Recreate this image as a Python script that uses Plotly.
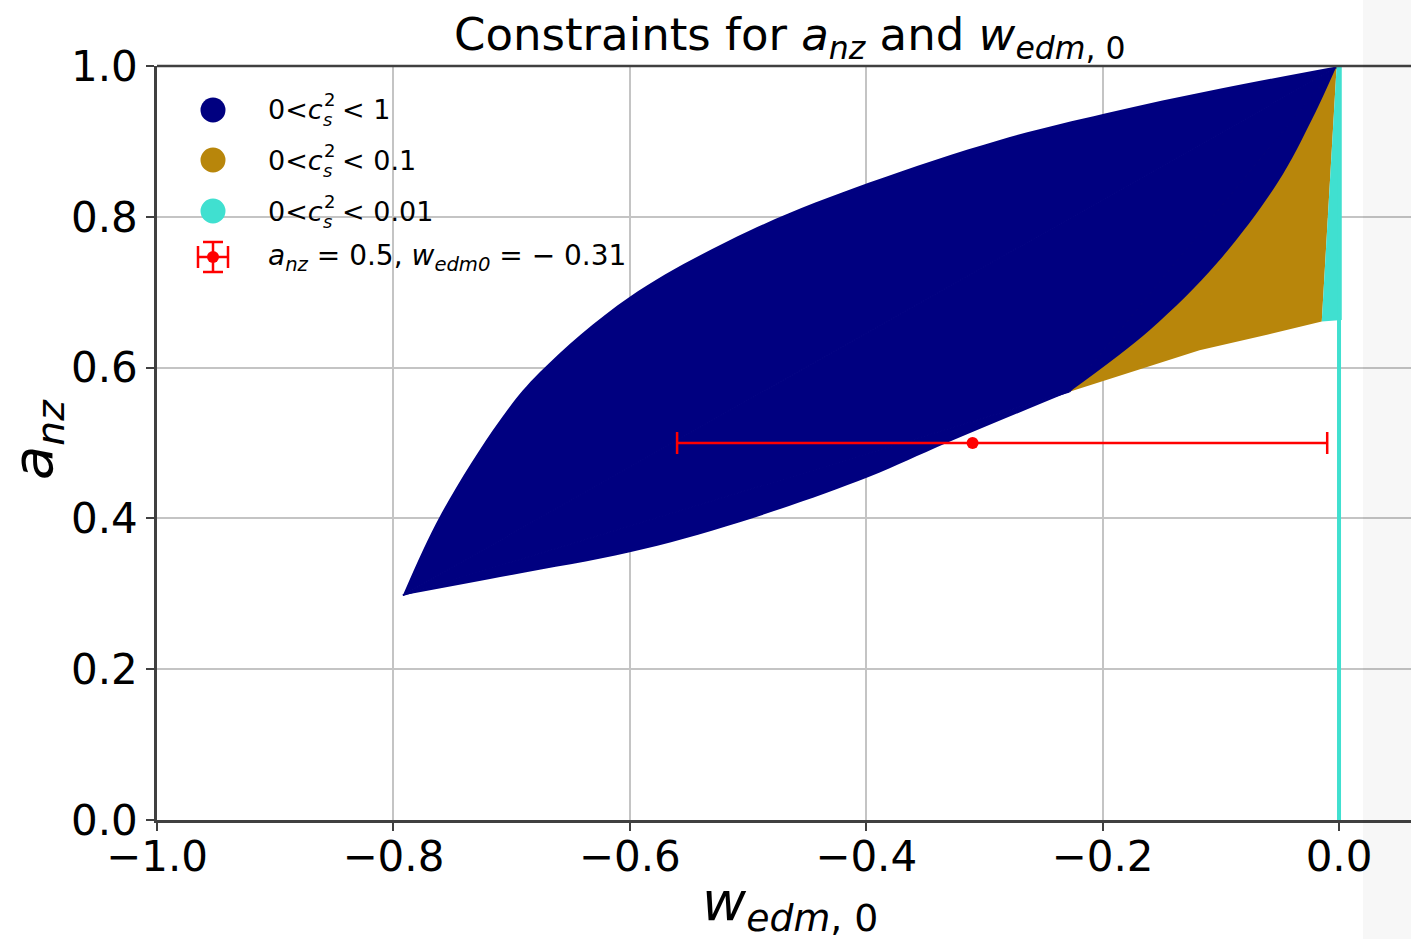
import plotly.graph_objects as go

# ---- region boundaries (w_edm0, a_nz) ----
# 0 < c_s^2 < 1 : upper edge of the allowed lens
blue_upper_w = [-0.792, -0.761, -0.710, -0.676, -0.600, -0.498, -0.398, -0.287, -0.198, -0.100, 0.000]
blue_upper_a = [0.298, 0.402, 0.530, 0.594, 0.694, 0.782, 0.845, 0.902, 0.937, 0.970, 1.000]
# lower edge of the lens up to where the 0.1 band begins
blue_lower_w = [-0.792, -0.700, -0.600, -0.507, -0.398, -0.332, -0.228]
blue_lower_a = [0.298, 0.325, 0.355, 0.395, 0.455, 0.500, 0.568]

# 0 < c_s^2 < 0.1 : lower edge and the edge shared with the 0..1 region
gold_lower_w = [-0.228, -0.170, -0.118, -0.060, -0.0146]
gold_lower_a = [0.568, 0.597, 0.623, 0.644, 0.661]
gold_upper_w = [-0.228, -0.160, -0.103, -0.052, -0.022, -0.002]
gold_upper_a = [0.568, 0.650, 0.739, 0.845, 0.932, 1.000]

# 0 < c_s^2 < 0.01 : thin sliver next to w = 0, plus the w = 0 column
cyan_w = [-0.0146, -0.002, 0.0023, 0.0023]
cyan_a = [0.661, 1.000, 1.000, 0.663]
cyan_col_w = [0.0, 0.0]
cyan_col_a = [0.0, 1.0]

# best-fit point with asymmetric error on w
pt_w = [-0.31]
pt_a = [0.5]
pt_err_plus = [0.30]
pt_err_minus = [0.25]

x_ticks = [-1.0, -0.8, -0.6, -0.4, -0.2, 0.0]
x_ticklabels = ["\u22121.0", "\u22120.8", "\u22120.6", "\u22120.4", "\u22120.2", "0.0"]
y_ticks = [0.0, 0.2, 0.4, 0.6, 0.8, 1.0]
y_ticklabels = ["0.0", "0.2", "0.4", "0.6", "0.8", "1.0"]

NAVY = "#000080"
GOLD = "#B8860B"
TURQ = "#40E0D0"
RED = "#FF0000"
FONT = "DejaVu Sans"

W, H = 1411, 939
L, R, T, B = 157, 0, 66, 119


def px_x(px):
    return (px - L) / (W - L - R)


def px_y(py):
    return (H - B - py) / (H - T - B)


def edge_fill(fig, xs, ys, color, shape="spline"):
    """Edge closed by the straight chord between its two ends."""
    fig.add_trace(go.Scatter(x=xs, y=ys, mode="lines",
                             line=dict(width=0, shape=shape, color=color),
                             fill="toself", fillcolor=color,
                             showlegend=False, hoverinfo="skip"))


def chord(fig, xs, ys, color):
    fig.add_trace(go.Scatter(x=xs, y=ys, mode="lines",
                             line=dict(width=1.5, color=color),
                             showlegend=False, hoverinfo="skip"))


fig = go.Figure()

# 0..1 region = (upper edge over its chord) + (lower edge under its chord)
#               + the triangle spanned by the tip and the two far corners
tip_w, tip_a = blue_upper_w[0], blue_upper_a[0]
edge_fill(fig, blue_upper_w, blue_upper_a, NAVY)
edge_fill(fig, blue_lower_w, blue_lower_a, NAVY)
edge_fill(fig, [tip_w, blue_lower_w[-1], blue_upper_w[-1]],
          [tip_a, blue_lower_a[-1], blue_upper_a[-1]], NAVY, shape="linear")
chord(fig, [tip_w, blue_upper_w[-1]], [tip_a, blue_upper_a[-1]], NAVY)
chord(fig, [tip_w, blue_lower_w[-1]], [tip_a, blue_lower_a[-1]], NAVY)

# 0..0.1 region: area under its chord, minus the part above the shared edge
edge_fill(fig, gold_lower_w + [gold_upper_w[-1]], gold_lower_a + [gold_upper_a[-1]], GOLD,
          shape="linear")
edge_fill(fig, gold_upper_w, gold_upper_a, NAVY)
chord(fig, [gold_upper_w[0], gold_upper_w[-1]], [gold_upper_a[0], gold_upper_a[-1]], NAVY)

# 0..0.01 region
fig.add_trace(go.Scatter(x=cyan_w, y=cyan_a, mode="lines",
                         line=dict(width=0, color=TURQ),
                         fill="toself", fillcolor=TURQ,
                         showlegend=False, hoverinfo="skip"))
fig.add_trace(go.Scatter(x=cyan_col_w, y=cyan_col_a, mode="lines",
                         line=dict(width=4, color=TURQ),
                         showlegend=False, hoverinfo="skip"))

fig.add_trace(go.Scatter(x=pt_w, y=pt_a, mode="markers",
                         marker=dict(size=12, color=RED),
                         error_x=dict(type="data", symmetric=False,
                                      array=pt_err_plus, arrayminus=pt_err_minus,
                                      color=RED, thickness=2.5, width=11),
                         showlegend=False, hoverinfo="skip"))

shapes = []
annotations = []

# top spine
shapes.append(dict(type="line", xref="paper", yref="paper", x0=0, x1=1, y0=1, y1=1,
                   line=dict(color="#404040", width=2.5), layer="above"))

# legend glyphs
leg_x = px_x(213)
leg_rows = [110, 160, 211, 257]
for py, col in zip(leg_rows[:3], [NAVY, GOLD, TURQ]):
    shapes.append(dict(type="circle", xref="paper", yref="paper",
                       xsizemode="pixel", ysizemode="pixel",
                       xanchor=leg_x, yanchor=px_y(py),
                       x0=-12.5, x1=12.5, y0=-12.5, y1=12.5,
                       fillcolor=col, line=dict(width=0)))
ey = px_y(leg_rows[3])
seg = [(-15, 0, 15, 0), (0, -15, 0, 15), (-15, -11, -15, 11), (15, -11, 15, 11),
       (-10, 15, 10, 15), (-10, -15, 10, -15)]
for x0, y0, x1, y1 in seg:
    shapes.append(dict(type="line", xref="paper", yref="paper",
                       xsizemode="pixel", ysizemode="pixel",
                       xanchor=leg_x, yanchor=ey, x0=x0, x1=x1, y0=y0, y1=y1,
                       line=dict(color=RED, width=2.5)))
shapes.append(dict(type="circle", xref="paper", yref="paper",
                   xsizemode="pixel", ysizemode="pixel",
                   xanchor=leg_x, yanchor=ey, x0=-6, x1=6, y0=-6, y1=6,
                   fillcolor=RED, line=dict(width=0)))

# legend labels: 0<c_s^2<..., with stacked sub/superscript
LF = 27
SF = 18
base_w = 55
tail = ["&lt; 1", "&lt; 0.1", "&lt; 0.01"]
for py, t in zip(leg_rows[:3], tail):
    yy = px_y(py)
    annotations.append(dict(xref="paper", yref="paper", x=px_x(266), y=yy,
                            xanchor="left", yanchor="middle", showarrow=False,
                            text="0&lt;<i>c</i>", font=dict(family=FONT, size=LF, color="black")))
    annotations.append(dict(xref="paper", yref="paper", x=px_x(266 + base_w + 1), y=yy,
                            xanchor="left", yanchor="middle", yshift=10, showarrow=False,
                            text="2", font=dict(family=FONT, size=SF, color="black")))
    annotations.append(dict(xref="paper", yref="paper", x=px_x(266 + base_w), y=yy,
                            xanchor="left", yanchor="middle", yshift=-10, showarrow=False,
                            text="<i>s</i>", font=dict(family=FONT, size=SF, color="black")))
    annotations.append(dict(xref="paper", yref="paper", x=px_x(266 + base_w + 19), y=yy,
                            xanchor="left", yanchor="middle", showarrow=False,
                            text=t, font=dict(family=FONT, size=LF, color="black")))
annotations.append(dict(xref="paper", yref="paper", x=px_x(266), y=ey,
                        xanchor="left", yanchor="middle", showarrow=False,
                        text="<i>a</i><sub><i>nz</i></sub> = 0.5, <i>w</i><sub><i>edm0</i></sub> = \u2212 0.31",
                        font=dict(family=FONT, size=28, color="black")))

# title and axis labels
annotations.append(dict(xref="paper", yref="paper", x=px_x(790), y=px_y(37),
                        xanchor="center", yanchor="middle", showarrow=False,
                        text="Constraints for <i>a</i><sub><i>nz</i></sub> and <i>w</i><sub><i>edm</i>, 0</sub>",
                        font=dict(family=FONT, size=45, color="black")))
annotations.append(dict(xref="paper", yref="paper", x=px_x(790), y=px_y(905),
                        xanchor="center", yanchor="middle", showarrow=False,
                        text="<i>w</i><sub><i>edm</i>, 0</sub>",
                        font=dict(family=FONT, size=54, color="black")))
annotations.append(dict(xref="paper", yref="paper", x=px_x(36), y=px_y(440),
                        xanchor="center", yanchor="middle", showarrow=False, textangle=-90,
                        text="<i>a</i><sub><i>nz</i></sub>",
                        font=dict(family=FONT, size=56, color="black")))

# faint band at the right edge
shapes.append(dict(type="rect", xref="paper", yref="paper",
                   x0=px_x(1363), x1=px_x(1411), y0=px_y(939), y1=px_y(0),
                   fillcolor="rgba(0,0,0,0.03)", line=dict(width=0), layer="above"))

axis_common = dict(showgrid=True, gridcolor="#c4c4c4", gridwidth=1.6, zeroline=False,
                   showline=True, linecolor="#404040", linewidth=2.5,
                   ticks="outside", ticklen=8, tickwidth=2, tickcolor="#404040",
                   tickfont=dict(family=FONT, size=42, color="black"))

fig.update_layout(
    width=W, height=H,
    margin=dict(l=L, r=R, t=T, b=B),
    paper_bgcolor="white", plot_bgcolor="white",
    showlegend=False,
    xaxis=dict(range=[-1.0, 0.0609], tickmode="array", tickvals=x_ticks,
               ticktext=x_ticklabels, **axis_common),
    yaxis=dict(range=[0.0, 1.0], tickmode="array", tickvals=y_ticks, ticktext=y_ticklabels,
               **axis_common),
    shapes=shapes,
    annotations=annotations,
)

# pull the x tick labels a little closer to the axis
try:
    fig.update_xaxes(ticklabelstandoff=-10)
except ValueError:
    pass

fig.write_html("out.html")
